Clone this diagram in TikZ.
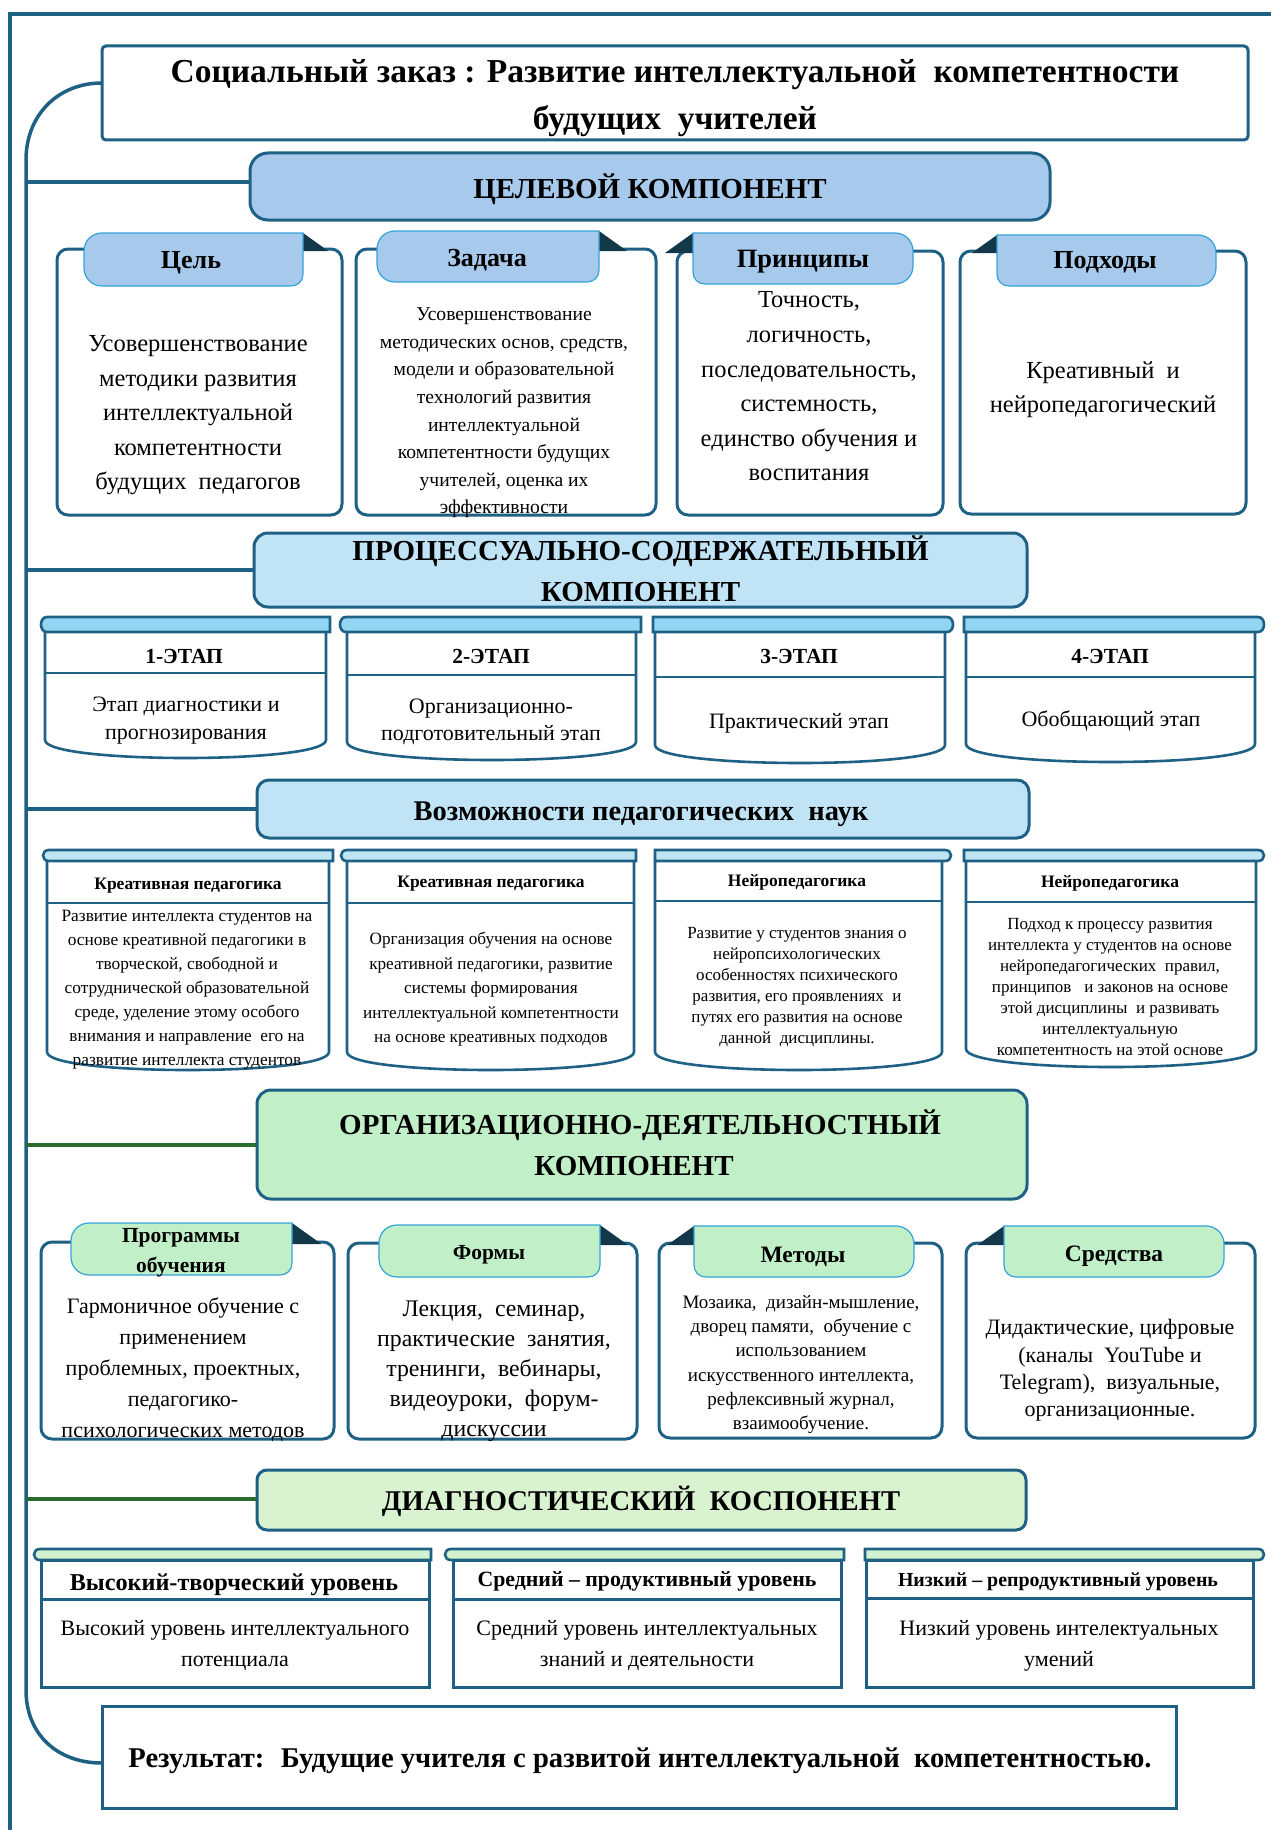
\documentclass[tikz,border=0pt]{standalone}
\usepackage{fontspec}
\setmainfont{Liberation Serif}
\definecolor{outl}{HTML}{1E6184}
\definecolor{tabedge}{HTML}{33A3D9}
\definecolor{tabblue}{HTML}{A6C9EC}
\definecolor{hdrblue}{HTML}{C0E4F6}
\definecolor{capblue}{HTML}{92D6F4}
\definecolor{caplight}{HTML}{BFE4F4}
\definecolor{hdrgreen}{HTML}{C1F0C8}
\definecolor{diaggreen}{HTML}{D9F2D0}
\definecolor{capgreen}{HTML}{D3F1CE}
\definecolor{foldc}{HTML}{12384A}
\definecolor{linkgreen}{HTML}{2A6B2F}
\newcommand{\fsz}[2]{\fontsize{#1}{#2}\selectfont}
\def\capht{15}
\tikzset{
 outline/.style={draw=outl, line width=3pt},
 cardbox/.style={outline, fill=white, rounded corners=11pt},
 hdr/.style={outline, rounded corners=16pt, inner sep=0pt},
 txt/.style={inner sep=0pt, align=center, yshift=-2.5pt},
 tabshape/.style={draw=tabedge, line width=1.2pt},
 fold/.style={fill=foldc},
 link/.style={draw=outl, line width=3.5pt},
 glink/.style={draw=linkgreen, line width=3.5pt},
}
% tab with rounded left side, fold on the right
\newcommand{\tabL}[6]{%
 \fill[fold] (#3,#2) -- (#3,{#6+2}) -- ({#3+1.4*(#6+2-#2)},{#6+2}) -- cycle;
 \filldraw[tabshape, fill=#5] ({#1+18},#2) -- (#3,#2) -- (#3,{#4-12}) .. controls (#3,{#4-5}) and ({#3-5},#4) .. ({#3-12},#4) -- ({#1+18},#4) .. controls ({#1+8},#4) and (#1,{#4-8}) .. (#1,{#4-18}) -- (#1,{#2+18}) .. controls (#1,{#2+8}) and ({#1+8},#2) .. ({#1+18},#2) -- cycle;}
% tab with rounded right side, fold on the left
\newcommand{\tabR}[6]{%
 \fill[fold] (#1,#2) -- (#1,{#6+2}) -- ({#1-1.4*(#6+2-#2)},{#6+2}) -- cycle;
 \filldraw[tabshape, fill=#5] (#1,#2) -- ({#3-18},#2) .. controls ({#3-8},#2) and (#3,{#2+8}) .. (#3,{#2+18}) -- (#3,{#4-18}) .. controls (#3,{#4-8}) and ({#3-8},#4) .. ({#3-18},#4) -- ({#1+12},#4) .. controls ({#1+5},#4) and (#1,{#4-5}) .. (#1,{#4-12}) -- cycle;}
\newcommand{\cylbody}[5]{%
 \filldraw[outline, line width=2.6pt, fill=white] (#1,{#3+\capht}) -- (#1,{#5-18}) .. controls (#1,{#5+6}) and (#2,{#5+6}) .. (#2,{#5-18}) -- (#2,{#3+\capht});
 \draw[outline, line width=2.6pt] (#1,#4) -- (#2,#4);}
\newcommand{\lvlbody}[5]{%
 \filldraw[outline, line width=3pt, fill=white] (#1,{#3+\capht}) rectangle (#2,#5);
 \draw[outline, line width=3pt] (#1,#4) -- (#2,#4);}
\newcommand{\capL}[4]{%
 \filldraw[outline, line width=2.6pt, fill=#4] (#2,#3) -- ({#1+7},#3) .. controls ({#1-1},#3) and ({#1-1},{#3+\capht}) .. ({#1+7},{#3+\capht}) -- (#2,{#3+\capht}) -- cycle;}
\newcommand{\capR}[4]{%
 \filldraw[outline, line width=2.6pt, fill=#4] (#1,#3) -- ({#2-7},#3) .. controls ({#2+1},#3) and ({#2+1},{#3+\capht}) .. ({#2-7},{#3+\capht}) -- (#1,{#3+\capht}) -- cycle;}
\begin{document}
\begin{tikzpicture}[x=1pt,y=-1pt]
\useasboundingbox (0,0) rectangle (1271,1830);
\fill[white] (0,0) rectangle (1271,1830);
% page frame
\draw[outline, line width=3.5pt] (10,1830) -- (10,14) -- (1271,14);

% title
\node[outline, rounded corners=4pt, minimum width=1146pt, minimum height=94pt, inner sep=0pt] (title) at (675,93) {};
\node[txt, font=\bfseries\fsz{33.5}{47}] (titletext) at (675,96) {Социальный заказ : Развитие интеллектуальной~ компетентности\\будущих~ учителей};
% result
\node[outline, minimum width=1074pt, minimum height=102pt, inner sep=0pt] (result) at (639,1757) {};
\node[txt, font=\bfseries\fsz{28.6}{33}] (resulttext) at (640,1758.5) {Результат:~ Будущие учителя с развитой интеллектуальной~ компетентностью.};

% component headers
\node[hdr, fill=tabblue, minimum width=800pt, minimum height=67pt, rounded corners=18pt] (cel) at (650,186.5) {};
\node[txt, font=\bfseries\fsz{29}{34}] (celtext) at (650,186.5) {ЦЕЛЕВОЙ КОМПОНЕНТ};
\node[hdr, fill=hdrblue, minimum width=773pt, minimum height=74pt, rounded corners=14pt] (proc) at (640.5,570) {};
\node[txt, font=\bfseries\fsz{29}{41}] (proctext) at (640.5,566.5) {ПРОЦЕССУАЛЬНО-СОДЕРЖАТЕЛЬНЫЙ\\КОМПОНЕНТ};
\node[hdr, fill=hdrblue, minimum width=772pt, minimum height=58pt, rounded corners=12pt] (vozm) at (643,809) {};
\node[txt, font=\bfseries\fsz{28.5}{30}] (vozmtext) at (641,811.5) {Возможности педагогических~ наук};
\node[hdr, fill=hdrgreen, minimum width=770pt, minimum height=109pt, rounded corners=14pt] (org) at (642,1144.5) {};
\node[txt, font=\bfseries\fsz{29}{41}] (orgtext) at (634,1140) {\hspace*{12pt}ОРГАНИЗАЦИОННО-ДЕЯТЕЛЬНОСТНЫЙ\\КОМПОНЕНТ};
\node[hdr, fill=diaggreen, minimum width=769pt, minimum height=60pt, rounded corners=10pt] (diag) at (641.5,1500) {};
\node[txt, font=\bfseries\fsz{28.6}{30}] (diagtext) at (641,1499) {ДИАГНОСТИЧЕСКИЙ~ КОСПОНЕНТ};

% spine and connectors
\coordinate (tA) at (102,83);
\coordinate (rA) at (102,1763);
\draw[link] (tA) .. controls (58,83) and (26,115) .. (26,160) -- (26,1690) .. controls (26,1735) and (58,1763) .. (rA);
\coordinate (j1) at (26,182);
\coordinate (j2) at (26,570);
\coordinate (j3) at (26,809);
\coordinate (j4) at (26,1145);
\coordinate (j5) at (26,1499);
\draw[link] (j1) -- (j1 -| cel.west);
\draw[link] (j2) -- (j2 -| proc.west);
\draw[link] (j3) -- (j3 -| vozm.west);
\draw[glink] (j4) -- (j4 -| org.west);
\draw[glink] (j5) -- (j5 -| diag.west);

% ---------- row 1 ----------
\draw[cardbox] (57,249) rectangle (342,515);
\tabL{84}{233}{303}{286}{tabblue}{249}
\node[txt, font=\bfseries\fsz{26}{30}] (t1) at (191,260) {Цель};
\node[txt, font=\fsz{24.5}{34.5}] (b1) at (198,413) {Усовершенствование\\методики развития\\интеллектуальной\\компетентности\\будущих~ педагогов};

\draw[cardbox] (356,249) rectangle (656,515);
\tabL{377}{231}{599}{282}{tabblue}{249}
\node[txt, font=\bfseries\fsz{26}{30}] (t2) at (487,258) {Задача};
\node[txt, font=\fsz{19.6}{27.6}] (b2) at (504,410.5) {Усовершенствование\\методических основ, средств,\\модели и образовательной\\технологий развития\\интеллектуальной\\компетентности будущих\\учителей, оценка их\\эффективности};

\draw[cardbox] (677,251) rectangle (943,515);
\tabR{693}{233}{913}{284}{tabblue}{251}
\node[txt, font=\bfseries\fsz{26.5}{30}] (t3) at (803,259) {Принципы};
\node[txt, font=\fsz{24.5}{34.6}] (b3) at (809,384) {Точность,\\логичность,\\последовательность,\\системность,\\единство обучения и\\воспитания};

\draw[cardbox] (960,251) rectangle (1246,514);
\tabR{997}{235}{1216}{286}{tabblue}{251}
\node[txt, font=\bfseries\fsz{26}{30}] (t4) at (1105,260) {Подходы};
\node[txt, font=\fsz{24.5}{34}] (b4) at (1103,387) {Креативный~ и\\нейропедагогический};

% ---------- row 2 : stages ----------
\def\capht{15}
\cylbody{45}{326}{617}{673}{758}
\capL{40}{330}{617}{capblue}
\node[txt, font=\bfseries\fsz{21.5}{24}] (s1) at (184,654) {1-ЭТАП};
\node[txt, font=\fsz{22}{28}] (s1b) at (186,718) {Этап диагностики и\\прогнозирования};

\cylbody{347}{636}{617}{675}{760}
\capL{339}{641}{617}{capblue}
\node[txt, font=\bfseries\fsz{21.5}{24}] (s2) at (491,654) {2-ЭТАП};
\node[txt, font=\fsz{22}{27}] (s2b) at (491,719.5) {Организационно-\\подготовительный этап};

\cylbody{655}{945}{617}{677}{763}
\capR{653}{954}{617}{capblue}
\node[txt, font=\bfseries\fsz{21.5}{24}] (s3) at (799,654) {3-ЭТАП};
\node[txt, font=\fsz{22}{27}] (s3b) at (799,721) {Практический этап};

\cylbody{966}{1255}{617}{677}{762}
\capR{964}{1265}{617}{capblue}
\node[txt, font=\bfseries\fsz{21.5}{24}] (s4) at (1110,654) {4-ЭТАП};
\node[txt, font=\fsz{22}{27}] (s4b) at (1111,718) {Обобщающий этап};

% ---------- row 3 ----------
\def\capht{11}
\cylbody{47}{329}{850}{903}{1070}
\capL{42}{333}{850}{caplight}
\node[txt, font=\bfseries\fsz{17.5}{20}] (p1) at (188,883) {Креативная педагогика};
\node[txt, font=\fsz{17.3}{24}] (p1b) at (187,987.5) {Развитие интеллекта студентов на\\основе креативной педагогики в\\творческой, свободной и\\сотруднической образовательной\\среде, уделение этому особого\\внимания и направление~ его на\\развитие интеллекта студентов};

\cylbody{347}{634}{850}{903}{1070}
\capL{340}{636}{850}{caplight}
\node[txt, font=\bfseries\fsz{17.5}{20}] (p2) at (491,881) {Креативная педагогика};
\node[txt, font=\fsz{17.2}{24.5}] (p2b) at (491,987) {Организация обучения на основе\\креативной педагогики, развитие\\системы формирования\\интеллектуальной компетентности\\на основе креативных подходов};

\cylbody{655}{942}{850}{901}{1070}
\capR{655}{952}{850}{caplight}
\node[txt, font=\bfseries\fsz{17.5}{20}] (p3) at (797,880) {Нейропедагогика};
\node[txt, font=\fsz{17}{21}] (p3b) at (797,984.5) {Развитие у студентов знания о\\нейропсихологических\\особенностях психического\\развития, его проявлениях~ и\\путях его развития на основе\\данной~ дисциплины.};

\cylbody{966}{1256}{850}{902}{1067}
\capR{964}{1265}{850}{caplight}
\node[txt, font=\bfseries\fsz{17.5}{20}] (p4) at (1110,881) {Нейропедагогика};
\node[txt, font=\fsz{17}{21}] (p4b) at (1110,984.5) {Подход к процессу развития\\интеллекта у студентов на основе\\нейропедагогических~ правил,\\принципов~~ и законов на основе\\этой дисциплины~ и развивать\\интеллектуальную\\компетентность на этой основе};

% ---------- row 4 ----------
\draw[cardbox] (41,1242) rectangle (334,1439);
\tabL{71}{1223}{292}{1275}{hdrgreen}{1242}
\node[txt, font=\bfseries\fsz{21.5}{30}] (o1) at (181,1250) {Программы\\обучения};
\node[txt, font=\fsz{22}{31}] (o1b) at (183,1367.5) {Гармоничное обучение с\\применением\\проблемных, проектных,\\педагогико-\\психологических методов};

\draw[cardbox] (348,1243) rectangle (637,1439);
\tabL{379}{1225}{600}{1277}{hdrgreen}{1243}
\node[txt, font=\bfseries\fsz{21.5}{26}] (o2) at (489,1252) {Формы};
\node[txt, font=\fsz{23.8}{30}] (o2b) at (494,1369) {Лекция,~ семинар,\\практические~ занятия,\\тренинги,~ вебинары,\\видеоуроки,~ форум-\\дискуссии};

\draw[cardbox] (659,1243) rectangle (942,1438);
\tabR{694}{1226}{914}{1277}{hdrgreen}{1243}
\node[txt, font=\bfseries\fsz{23.5}{28}] (o3) at (803,1254) {Методы};
\node[txt, font=\fsz{19}{24.2}] (o3b) at (801,1362) {Мозаика,~ дизайн-мышление,\\дворец памяти,~ обучение с\\использованием\\искусственного интеллекта,\\рефлексивный журнал,\\взаимообучение.};

\draw[cardbox] (966,1243) rectangle (1255,1438);
\tabR{1004}{1226}{1224}{1277}{hdrgreen}{1243}
\node[txt, font=\bfseries\fsz{23.5}{28}] (o4) at (1114,1254) {Средства};
\node[txt, font=\fsz{22}{27.3}] (o4b) at (1110,1368) {Дидактические, цифровые\\(каналы~ YouTube и\\Telegram),~ визуальные,\\организационные.};

% ---------- row 5 ----------
\def\capht{11}
\lvlbody{41}{429}{1549}{1599}{1687}
\capL{33}{431}{1549}{capgreen}
\node[txt, font=\bfseries\fsz{24.2}{26}] (l1) at (234,1582) {Высокий-творческий уровень};
\node[txt, font=\fsz{22}{31}] (l1b) at (235,1643) {Высокий уровень интеллектуального\\потенциала};

\lvlbody{453}{841}{1549}{1599}{1687}
\capL{444}{844}{1549}{capgreen}
\node[txt, font=\bfseries\fsz{21.8}{24}] (l2) at (647,1579) {Средний – продуктивный уровень};
\node[txt, font=\fsz{22}{31}] (l2b) at (647,1643) {Средний уровень интеллектуальных\\знаний и деятельности};

\lvlbody{866}{1253}{1549}{1598}{1687}
\capR{865}{1265}{1549}{capgreen}
\node[txt, font=\bfseries\fsz{19.9}{22}] (l3) at (1058,1579) {Низкий – репродуктивный уровень};
\node[txt, font=\fsz{22}{31}] (l3b) at (1059,1643) {Низкий уровень интелектуальных\\умений};
\end{tikzpicture}
\end{document}
